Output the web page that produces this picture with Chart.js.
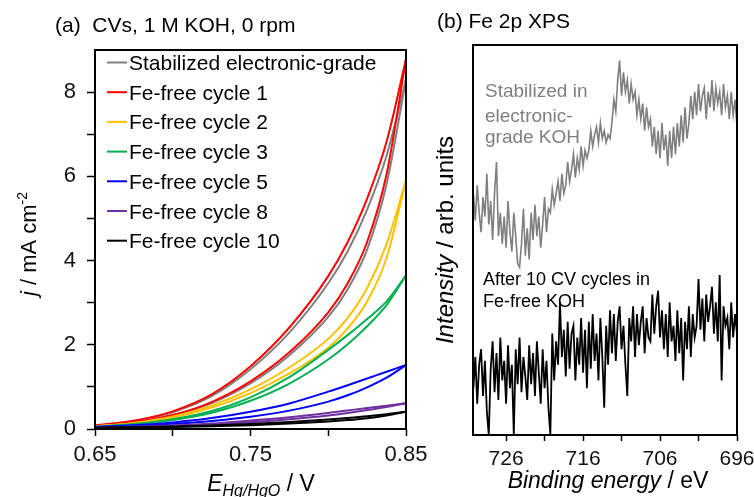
<!DOCTYPE html>
<html>
<head>
<meta charset="utf-8">
<script src="https://cdn.jsdelivr.net/npm/chart.js@4.4.0/dist/chart.umd.min.js"></script>
<style>
html, body { margin:0; padding:0; background:#fff; overflow:hidden; width:754px; height:497px; }
#wrap { position:relative; width:754px; height:497px; }
#cv { position:absolute; left:0; top:0; }
#xps { position:absolute; left:420px; top:0; }
</style>
</head>
<body>
<div id="wrap">
  <canvas id="cv" width="440" height="497"></canvas>
  <canvas id="xps" width="360" height="497"></canvas>
</div>
<script>
// ---- panel (a): CVs, forward and reverse branch of each loop ----
var cvE = [0.65, 0.675, 0.70, 0.725, 0.75, 0.775, 0.80, 0.8125, 0.825, 0.8375, 0.85]
var cvLabels = ['Stabilized electronic-grade', 'Fe-free cycle 1', 'Fe-free cycle 2', 'Fe-free cycle 3',
                'Fe-free cycle 5', 'Fe-free cycle 8', 'Fe-free cycle 10']
var cvColors = ['#808080', '#ff0000', '#ffc000', '#00b050', '#0000ff', '#7030a0', '#000000']

var grayFwd  = [0.071, 0.156, 0.320, 0.613, 1.08, 1.75, 2.66, 3.32, 4.26, 5.81, 8.30]
var grayRev  = [0.082, 0.188, 0.399, 0.779, 1.42, 2.29, 3.46, 4.22, 5.21, 6.49, 8.30]
var cyc1Fwd  = [0.074, 0.162, 0.333, 0.640, 1.13, 1.82, 2.77, 3.46, 4.44, 6.05, 8.78]
var cyc1Rev  = [0.086, 0.198, 0.419, 0.820, 1.49, 2.41, 3.63, 4.44, 5.47, 6.82, 8.78]
var cyc2Fwd  = [0.061, 0.135, 0.275, 0.507, 0.85, 1.32, 1.93, 2.39, 3.03, 4.06, 5.90]
var cyc2Rev  = [0.064, 0.145, 0.298, 0.554, 0.94, 1.46, 2.14, 2.64, 3.35, 4.39, 5.90]
var cyc3Fwd  = [0.052, 0.109, 0.212, 0.387, 0.67, 1.08, 1.65, 2.01, 2.44, 2.94, 3.65]
var cyc3Rev  = [0.055, 0.116, 0.230, 0.427, 0.75, 1.23, 1.88, 2.23, 2.61, 3.03, 3.65]
var cyc5Fwd  = [0.045, 0.074, 0.122, 0.192, 0.292, 0.436, 0.65, 0.80, 0.99, 1.22, 1.52]
var cyc5Rev  = [0.050, 0.091, 0.157, 0.260, 0.41, 0.607, 0.887, 1.04, 1.20, 1.36, 1.52]
var cyc8Fwd  = [0.032, 0.048, 0.070, 0.105, 0.16, 0.23, 0.32, 0.38, 0.45, 0.525, 0.61]
var cyc8Rev  = [0.035, 0.055, 0.085, 0.130, 0.20, 0.28, 0.38, 0.44, 0.50, 0.555, 0.61]
var cyc10Fwd = [0.025, 0.034, 0.047, 0.066, 0.092, 0.128, 0.178, 0.212, 0.255, 0.32, 0.41]
var cyc10Rev = [0.030, 0.043, 0.060, 0.085, 0.12, 0.165, 0.225, 0.26, 0.30, 0.35, 0.41]

var cvXTicks = [0.65, 0.70, 0.75, 0.80, 0.85]
var cvXLabels = [0.65, 0.75, 0.85]
var cvYTicks = [0, 1, 2, 3, 4, 5, 6, 7, 8]
var cvYLabels = [0, 2, 4, 6, 8]

// ---- panel (b): Fe 2p XPS ----
var xpsE = [730.25,730,729.75,729.5, 729.25,729,728.75,728.5, 728.25,728,727.75,727.5,
  727.25,727,726.75,726.5, 726.25,726,725.75,725.5, 725.25,725,724.75,724.5,
  724.25,724,723.75,723.5, 723.25,723,722.75,722.5, 722.25,722,721.75,721.5,
  721.25,721,720.75,720.5, 720.25,720,719.75,719.5, 719.25,719,718.75,718.5,
  718.25,718,717.75,717.5, 717.25,717,716.75,716.5, 716.25,716,715.75,715.5,
  715.25,715,714.75,714.5, 714.25,714,713.75,713.5, 713.25,713,712.75,712.5,
  712.25,712,711.75,711.5, 711.25,711,710.75,710.5, 710.25,710,709.75,709.5,
  709.25,709,708.75,708.5, 708.25,708,707.75,707.5, 707.25,707,706.75,706.5,
  706.25,706,705.75,705.5, 705.25,705,704.75,704.5, 704.25,704,703.75,703.5,
  703.25,703,702.75,702.5, 702.25,702,701.75,701.5, 701.25,701,700.75,700.5,
  700.25,700,699.75,699.5, 699.25,699,698.75,698.5, 698.25,698,697.75,697.5,
  697.25,697,696.75,696.5, 696.25,696]
var xpsStab = [62,55,64,57, 52,61,56,67, 54,60,50,62, 70,51,57,49, 56,48,60,52, 47,57,51,44,
  43,49,58,46, 53,45,57,50, 59,51,56,48, 54,61,52,58, 57,63,59,62, 65,60,67,62,
  64,70,65,68, 72,66,71,68, 74,69,73,71, 73,78,74,77, 79,75,80,76, 78,75,77,76,
  80,86,83,91, 96,87,93,88, 91,85,90,86, 88,82,86,81, 85,78,84,79, 81,74,79,72,
  78,71,80,73, 77,69,78,71, 79,72,80,74, 82,75,84,76, 80,87,81,88, 82,90,83,87,
  89,81,88,84, 91,83,89,85, 88,82,90,84, 87,81,88,82, 86,79]
var xpsFeFree = [12,20,8,18, 22,10,19,6, 0,17,24,11, 21,9,25,14, 19,8,23,12, 18,0,22,13,
  25,11,20,15, 9,23,13,21, 10,24,16,8, 22,12,19,7, 0,26,14,24, 18,34,20,27,
  15,29,17,26, 28,14,25,18, 30,16,27,12, 29,17,31,19, 26,14,30,20, 7,28,18,32,
  21,31,19,29, 33,22,28,18, 10,30,24,33, 20,31,23,29, 33,21,30,25, 24,36,26,33,
  37,25,32,22, 31,20,34,24, 28,19,32,21, 30,14,29,22, 33,20,31,25, 28,40,27,35,
  24,36,29,33, 38,26,34,24, 41,14,33,28, 30,22,34,25, 31,26]
var xpsXTicks = [726, 721, 716, 711, 706, 701, 696]
var xpsXLabels = [726, 716, 706, 696]

var F = "'Liberation Sans', Arial, Helvetica, sans-serif"

var loops = [[grayFwd, grayRev], [cyc1Fwd, cyc1Rev], [cyc2Fwd, cyc2Rev], [cyc3Fwd, cyc3Rev],
             [cyc5Fwd, cyc5Rev], [cyc8Fwd, cyc8Rev], [cyc10Fwd, cyc10Rev]]

function inList(v, list) {
  for (var i = 0; i < list.length; i++) if (Math.abs(list[i] - v) < 1e-6) return true
  return false
}

// draws a row of text pieces [text, font, dy]; centred on x if center is true
function pieces(c, parts, x, y, center) {
  var w = 0
  parts.forEach(function(p) { c.font = p[1]; w += c.measureText(p[0]).width })
  var cx = center ? x - w / 2 : x
  parts.forEach(function(p) {
    c.font = p[1]
    c.fillText(p[0], cx, y + (p[2] || 0))
    cx += c.measureText(p[0]).width
  })
}

function frame(ch) {
  var a = ch.chartArea, c = ch.ctx
  c.save()
  c.strokeStyle = '#000'
  c.lineWidth = 2
  c.strokeRect(a.left, a.top, a.right - a.left, a.bottom - a.top)
  c.restore()
}

// each branch is its own dataset so it can use monotone smoothing
var cvSets = []
loops.forEach(function(l, k) {
  for (var b = 0; b < 2; b++) {
    var pts = []
    for (var i = 0; i < cvE.length; i++) pts.push({x: cvE[i], y: l[b][i]})
    cvSets.push({
      label: cvLabels[k] + (b ? ' (reverse)' : ' (forward)'),
      data: pts,
      borderColor: cvColors[k],
      backgroundColor: cvColors[k],
      borderWidth: 2,
      pointRadius: 0,
      cubicInterpolationMode: 'monotone',
      fill: false,
      order: -k
    })
  }
})

var cvText = {
  id: 'cvText',
  afterDraw: function(ch) {
    frame(ch)
    var c = ch.ctx
    c.save()
    c.fillStyle = '#000'
    c.textBaseline = 'alphabetic'
    c.textAlign = 'left'
    c.font = '21px ' + F
    c.fillText('(a)  CVs, 1 M KOH, 0 rpm', 55, 32)
    // legend inside plot
    for (var i = 0; i < cvLabels.length; i++) {
      var by = 70 + i * 29.7
      c.strokeStyle = cvColors[i]
      c.lineWidth = 2
      c.beginPath()
      c.moveTo(107, by - 7.5)
      c.lineTo(127, by - 7.5)
      c.stroke()
      c.font = '21px ' + F
      c.fillStyle = '#000'
      c.fillText(cvLabels[i], 129, by)
    }
    pieces(c, [['E', 'italic 23px ' + F], ['Hg/HgO', 'italic 16px ' + F, 5], [' / V', '23px ' + F]], 261, 491, true)
    c.translate(36, 244)
    c.rotate(-Math.PI / 2)
    pieces(c, [['j', 'italic 22px ' + F], [' / mA cm', '22px ' + F], ['-2', '14px ' + F, -9]], 0, 0, true)
    c.restore()
  }
}

new Chart(document.getElementById('cv'), {
  type: 'line',
  data: { datasets: cvSets },
  options: {
    responsive: false,
    animation: false,
    devicePixelRatio: 1,
    layout: { padding: { left: 0, top: 50, right: 34, bottom: 0 } },
    plugins: { legend: { display: false }, tooltip: { enabled: false } },
    scales: {
      x: {
        type: 'linear', min: 0.65, max: 0.85,
        afterBuildTicks: function(s) { s.ticks = cvXTicks.map(function(v) { return {value: v} }) },
        afterFit: function(s) { s.height = 68 },
        border: { display: false },
        grid: { display: true, drawOnChartArea: false, drawTicks: true, tickLength: 7, tickWidth: 1.5, tickColor: '#000' },
        ticks: {
          font: { family: F, size: 22 }, color: '#111', padding: 6, maxRotation: 0, autoSkip: false,
          callback: function(v) { return inList(v, cvXLabels) ? v.toFixed(2) : '' }
        }
      },
      y: {
        type: 'linear', min: 0, max: 9,
        afterBuildTicks: function(s) { s.ticks = cvYTicks.map(function(v) { return {value: v} }) },
        afterFit: function(s) { s.width = 95 },
        border: { display: false },
        grid: { display: true, drawOnChartArea: false, drawTicks: true, tickLength: 8, tickWidth: 1.5, tickColor: '#000' },
        ticks: {
          font: { family: F, size: 22 }, color: '#111', padding: 11, autoSkip: false,
          callback: function(v) { return inList(v, cvYLabels) ? String(v) : '' }
        }
      }
    }
  },
  plugins: [cvText]
})

// ---- panel (b) ----
function xy(ys) {
  var pts = []
  for (var i = 0; i < xpsE.length; i++) pts.push({x: xpsE[i], y: ys[i]})
  return pts
}

var xpsText = {
  id: 'xpsText',
  afterDraw: function(ch) {
    frame(ch)
    var c = ch.ctx
    c.save()
    c.textBaseline = 'alphabetic'
    c.textAlign = 'left'
    c.fillStyle = '#000'
    c.font = '21px ' + F
    c.fillText('(b) Fe 2p XPS', 17, 28)
    c.fillStyle = '#7f7f7f'
    c.font = '19px ' + F
    c.fillText('Stabilized in', 65, 97)
    c.fillText('electronic-', 65, 122)
    c.fillText('grade KOH', 65, 143)
    c.fillStyle = '#000'
    c.font = '18px ' + F
    c.fillText('After 10 CV cycles in', 63, 285)
    c.fillText('Fe-free KOH', 63, 307)
    pieces(c, [['Binding energy', 'italic 23px ' + F], [' / eV', '23px ' + F]], 188, 488, true)
    c.translate(33, 240)
    c.rotate(-Math.PI / 2)
    pieces(c, [['Intensity', 'italic 24px ' + F], [' / arb. units', '24px ' + F]], 0, 0, true)
    c.restore()
  }
}

new Chart(document.getElementById('xps'), {
  type: 'line',
  data: {
    datasets: [
      { label: 'Stabilized in electronic-grade KOH', data: xy(xpsStab), borderColor: '#7f7f7f',
        borderWidth: 1.6, pointRadius: 0, tension: 0, fill: false },
      { label: 'After 10 CV cycles in Fe-free KOH', data: xy(xpsFeFree), borderColor: '#000000',
        borderWidth: 1.8, pointRadius: 0, tension: 0, fill: false }
    ]
  },
  options: {
    responsive: false,
    animation: false,
    devicePixelRatio: 1,
    layout: { padding: { left: 53, top: 45, right: 43, bottom: 0 } },
    plugins: { legend: { display: false }, tooltip: { enabled: false } },
    scales: {
      x: {
        type: 'linear', min: 696, max: 730.3, reverse: true,
        afterBuildTicks: function(s) { s.ticks = xpsXTicks.map(function(v) { return {value: v} }) },
        afterFit: function(s) { s.height = 62 },
        border: { display: false },
        grid: { display: true, drawOnChartArea: false, drawTicks: true, tickLength: 6, tickWidth: 1.5, tickColor: '#000' },
        ticks: {
          font: { family: F, size: 21 }, color: '#111', padding: 6, maxRotation: 0, autoSkip: false,
          callback: function(v) { return inList(v, xpsXLabels) ? String(v) : '' }
        }
      },
      y: { type: 'linear', min: 0, max: 100, display: false }
    }
  },
  plugins: [xpsText]
})
</script>
</body>
</html>
